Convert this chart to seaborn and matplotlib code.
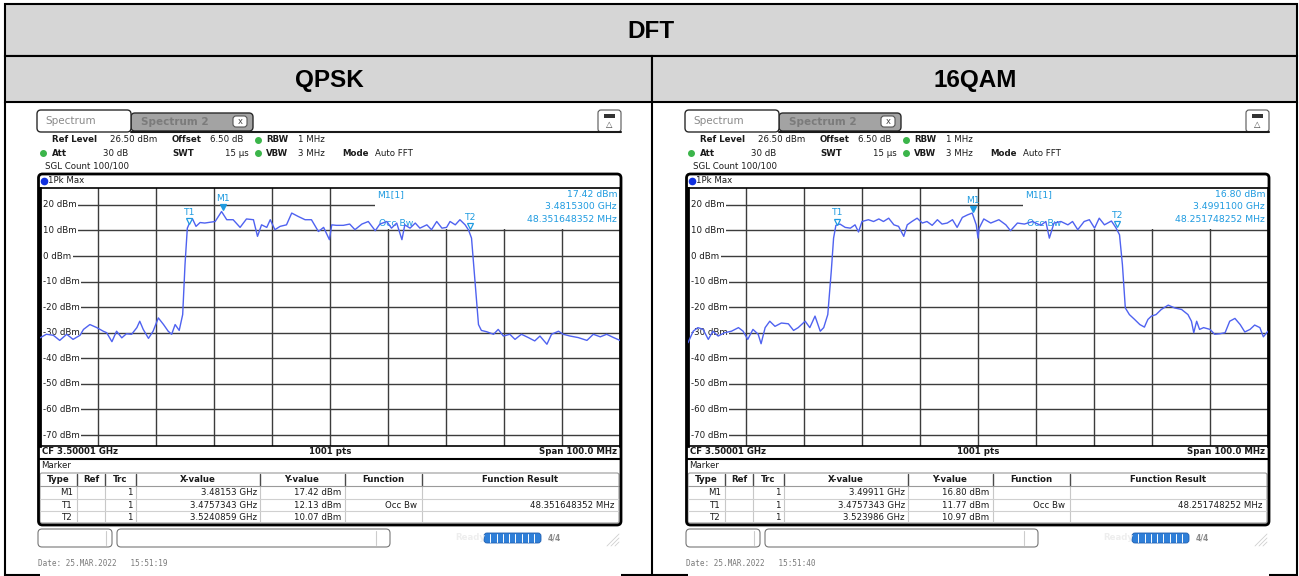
import matplotlib
matplotlib.use("Agg")
import matplotlib.pyplot as plt
import seaborn as sns
from matplotlib.patches import Rectangle, FancyBboxPatch

# ---- data ----
# frequency offset from CF (MHz) and level (dBm) of the "1Pk Max" trace
qpsk_freq = [-50.0, -48.9, -47.7, -46.6, -45.4, -44.3, -43.1, -42.5, -41.4, -40.2,
             -39.1, -38.5, -37.6, -36.8, -35.9, -35.1, -34.2, -33.3, -32.8, -32.2,
             -31.3, -30.5, -29.6, -28.7, -27.9, -27.3, -26.7, -26.0, -25.4, -25.0,
             -24.6, -24.1, -23.7, -23.1, -22.4, -21.6, -20.7, -19.8, -18.7, -17.8,
             -16.7, -15.5, -14.4, -13.2, -12.5, -11.8, -10.9, -10.3, -9.5, -8.6,
             -7.5, -6.6, -5.5, -4.3, -3.2, -2.0, -1.1, -0.1,
             0.3, 1.1, 2.3, 3.4, 4.3, 5.5, 6.6, 7.8, 8.6, 9.8,
             10.6, 11.5, 12.4, 12.9, 13.8, 14.7, 15.5, 16.7, 17.5, 18.4,
             19.3, 20.1, 20.7, 21.6, 22.4, 23.3, 23.9, 24.4, 25.0, 25.6,
             26.1, 27.0, 28.2, 29.0, 29.9, 31.0, 31.9, 33.0, 34.2, 35.3,
             36.2, 37.4, 38.2, 39.4, 40.2, 41.4, 42.8, 44.3, 45.4, 46.6,
             47.7, 48.9, 50.0]
qpsk_level = [-32.0, -30.6, -31.0, -33.0, -30.6, -32.6, -31.0, -28.7, -26.8, -28.0,
              -29.4, -30.0, -33.5, -29.4, -32.0, -30.4, -30.6, -28.0, -25.5, -28.7,
              -32.2, -29.4, -24.2, -26.8, -29.4, -30.6, -26.8, -29.1, -22.9, -3.4,
              10.9, 13.5, 14.5, 11.6, 13.1, 12.9, 13.2, 13.5, 17.4, 14.2,
              14.2, 11.2, 14.5, 14.2, 7.7, 12.2, 11.2, 14.2, 10.3, 11.6,
              12.2, 16.8, 15.5, 14.2, 14.2, 9.6, 11.2, 6.4,
              12.2, 12.0, 12.0, 12.5, 10.3, 12.5, 13.5, 9.9, 12.5, 13.5,
              10.9, 12.9, 6.4, 12.2, 10.9, 12.9, 10.9, 12.2, 10.3, 13.5,
              10.9, 11.2, 13.5, 12.2, 14.2, 12.2, 10.1, 7.0, -9.9, -26.8,
              -29.1, -29.6, -30.6, -28.7, -31.3, -30.6, -32.6, -30.6, -31.9, -33.2,
              -31.3, -34.5, -30.6, -29.4, -30.6, -31.3, -31.9, -33.0, -30.6, -31.6,
              -30.6, -31.9, -33.0]

qam_freq = [-50.0, -49.1, -48.3, -47.4, -46.5, -45.7, -44.8, -43.7, -42.5, -41.3,
            -40.5, -39.7, -38.8, -37.9, -37.4, -36.7, -35.9, -35.0, -33.9, -32.7,
            -31.8, -31.0, -29.8, -29.0, -28.1, -27.2, -26.6, -25.9, -25.3, -24.9,
            -24.5, -23.8, -22.9, -22.0, -21.2, -20.6, -20.0, -18.9, -18.0, -17.1,
            -16.3, -15.4, -14.5, -13.7, -12.8, -12.2, -11.4, -10.5, -9.6, -8.8,
            -7.9, -7.0, -6.2, -5.3, -4.4, -3.6, -2.7, -1.8, -1.0, -0.3, 0.0,
            0.2, 1.0, 2.2, 3.6, 4.8, 5.6, 6.8, 8.0, 9.4, 10.8,
            11.7, 12.3, 13.1, 14.3, 15.5, 16.3, 17.2, 18.3, 19.2, 20.1,
            20.9, 21.8, 23.0, 23.8, 24.4, 24.9, 25.4, 26.1, 27.0, 27.9,
            28.7, 29.3, 29.9, 30.7, 31.6, 32.8, 33.9, 35.1, 36.2, 36.8,
            37.2, 37.7, 38.2, 38.9, 40.0, 40.8, 41.7, 42.6, 43.4, 44.3,
            45.2, 46.0, 46.9, 47.7, 48.6, 49.2, 50.0]
qam_level = [-33.9, -29.4, -28.0, -28.7, -32.6, -29.4, -31.3, -30.0, -29.4, -28.0,
             -29.4, -32.6, -28.7, -30.6, -34.3, -28.0, -25.5, -27.5, -26.2, -26.5,
             -29.1, -28.0, -25.5, -28.0, -23.5, -29.4, -28.0, -22.9, -6.0, 7.0,
             12.0, 12.5, 11.2, 10.9, 12.2, 9.4, 13.5, 14.2, 13.5, 14.5,
             13.5, 14.8, 12.2, 11.6, 7.7, 12.2, 13.5, 14.8, 12.9, 13.5,
             12.0, 14.2, 12.5, 12.9, 14.2, 11.2, 15.1, 16.1, 16.8, 12.2, 7.0,
             10.9, 14.5, 12.9, 14.2, 12.2, 9.9, 12.9, 12.5, 13.5, 12.0,
             13.5, 7.0, 12.9, 13.5, 12.2, 13.5, 10.3, 13.5, 14.2, 10.9,
             14.8, 12.2, 13.7, 11.0, 8.3, -3.4, -20.3, -22.9, -24.8, -26.8,
             -27.8, -24.8, -23.5, -22.9, -20.9, -19.2, -20.3, -20.9, -22.9, -25.5,
             -30.0, -25.5, -28.7, -28.0, -28.7, -30.6, -30.4, -30.0, -25.5, -24.4,
             -26.8, -29.7, -28.7, -27.0, -28.0, -31.6, -29.4]

table_title = "DFT"
column_titles = ["QPSK", "16QAM"]
y_ticks = [20, 10, 0, -10, -20, -30, -40, -50, -60, -70]
center_ghz = 3.50001

marker_types = ["M1", "T1", "T2"]
qpsk_marker_x = ["3.48153 GHz", "3.4757343 GHz", "3.5240859 GHz"]
qpsk_marker_y = ["17.42 dBm", "12.13 dBm", "10.07 dBm"]
qam_marker_x = ["3.49911 GHz", "3.4757343 GHz", "3.523986 GHz"]
qam_marker_y = ["16.80 dBm", "11.77 dBm", "10.97 dBm"]
qpsk_occ_bw = "48.351648352 MHz"
qam_occ_bw = "48.251748252 MHz"
qpsk_m1_info = ["17.42 dBm", "3.4815300 GHz"]
qam_m1_info = ["16.80 dBm", "3.4991100 GHz"]
dates = ["Date: 25.MAR.2022   15:51:19", "Date: 25.MAR.2022   15:51:40"]

# ---- figure, one pixel-space axes for the table / screen furniture ----
W, H = 1299, 576
sns.set_style("white")
plt.rcParams["font.family"] = ["DejaVu Sans"]
fig = plt.figure(figsize=(W / 100, H / 100), dpi=100)
bg = fig.add_axes([0, 0, 1, 1])
bg.set_xlim(0, W)
bg.set_ylim(H, 0)
bg.axis("off")

SFS = 6.2
INFO = "#1f9be0"
TRACE = "#4f62f0"
GRID = "#3c3c3c"

# outer table
HEAD = "#d6d6d6"
bg.add_patch(Rectangle((5, 4), 1292, 52, fc=HEAD, ec="black", lw=1.5))
bg.add_patch(Rectangle((5, 56), 647, 46, fc=HEAD, ec="black", lw=1.5))
bg.add_patch(Rectangle((652, 56), 645, 46, fc=HEAD, ec="black", lw=1.5))
for xx in [5, 652, 1297]:
    bg.plot([xx, xx], [102, 576], color="black", lw=1.5, zorder=0.5)
bg.plot([5, 1297], [575, 575], color="black", lw=1.5, zorder=0.5)
title_kw = dict(ha="center", va="center", fontsize=17.5, fontweight="bold",
                family="Liberation Sans", color="black")
bg.text(651, 31, table_title, **title_kw)
bg.text(329, 80, column_titles[0], **title_kw)
bg.text(975, 80, column_titles[1], **title_kw)


def draw_screen(dx, freq, level, mx, my, occ, m1_info, date):
    def T(x, y, s, **kw):
        kw.setdefault("fontsize", SFS)
        kw.setdefault("va", "center")
        kw.setdefault("color", "#1a1a1a")
        bg.text(x + dx, y, s, **kw)

    def R(x0, y0, x1, y1, r=0.0, **kw):
        style = "round,pad=0,rounding_size=%g" % r if r > 0 else "square,pad=0"
        bg.add_patch(FancyBboxPatch((x0 + dx, y0), x1 - x0, y1 - y0, boxstyle=style, **kw))

    def L(xs, ys, **kw):
        bg.plot([x + dx for x in xs], ys, **kw)

    # white screenshot background hides part of the table's bottom line
    R(40, 104, 621, 576, fc="white", ec="none", zorder=0.8)

    # tabs
    R(131, 113, 253, 131, r=4, fc="#a3a3a3", ec="#2a2a2a", lw=1)
    T(141, 122, "Spectrum 2", fontsize=7.5, color="#7b7b7b", fontweight="bold")
    R(233, 116, 247, 127, r=3, fc="white", ec="#555555", lw=0.8)
    T(240, 121.5, "x", fontsize=6, ha="center", color="#444444")
    R(37, 110, 131, 132, r=4, fc="white", ec="#2a2a2a", lw=1)
    T(45, 121, "Spectrum", fontsize=7.5, color="#8a8a8a")
    L([131, 621], [131.5, 131.5], color="#1a1a1a", lw=1.5)
    R(598, 110, 621, 132, r=3, fc="white", ec="#555555", lw=0.8)
    R(604, 114, 615, 118, fc="#333333", ec="none")
    T(609.5, 125, "\u25b3", fontsize=6, ha="center", color="#444444")

    # settings lines
    green = "#3bb54a"
    T(52, 140, "Ref Level", fontweight="bold")
    T(110, 140, "26.50 dBm")
    T(172, 140, "Offset", fontweight="bold")
    T(210, 140, "6.50 dB")
    L([258], [140], marker="o", ms=4, color=green)
    T(266, 140, "RBW", fontweight="bold")
    T(298, 140, "1 MHz")
    L([43], [153], marker="o", ms=4, color=green)
    T(52, 153, "Att", fontweight="bold")
    T(128, 153, "30 dB", ha="right")
    T(172, 153, "SWT", fontweight="bold")
    T(249, 153, "15 \u00b5s", ha="right")
    L([258], [153], marker="o", ms=4, color=green)
    T(266, 153, "VBW", fontweight="bold")
    T(298, 153, "3 MHz")
    T(342, 153, "Mode", fontweight="bold")
    T(375, 153, "Auto FFT")
    T(45, 166, "SGL Count 100/100")

    # main screen frame
    R(38.5, 174, 621, 525, r=4, fc="none", ec="black", lw=2, zorder=5)
    L([44], [180.5], marker="o", ms=4.5, color="#1030e0")
    T(48, 180.5, "1Pk Max")
    L([39, 621], [459, 459], color="black", lw=1.5)
    T(42, 452, "CF 3.50001 GHz", fontweight="bold")
    T(330, 452, "1001 pts", fontweight="bold", ha="center")
    T(617, 452, "Span 100.0 MHz", fontweight="bold", ha="right")

    # marker table
    T(41, 466, "Marker")
    R(40, 473, 619, 523, r=2, fc="none", ec="#9a9a9a", lw=0.8)
    seps = [77, 105, 136, 260, 345, 422]
    for sx in seps:
        L([sx, sx], [474, 486], color="#4a4a4a", lw=1)
        L([sx, sx], [486, 523], color="#c8c8c8", lw=0.8)
    L([40, 619], [486, 486], color="#9a9a9a", lw=0.8)
    L([40, 619], [498.5, 498.5], color="#d0d0d0", lw=0.8)
    L([40, 619], [511, 511], color="#d0d0d0", lw=0.8)
    heads = [("Type", 58), ("Ref", 91), ("Trc", 120), ("X-value", 198),
             ("Y-value", 302), ("Function", 383), ("Function Result", 520)]
    for h, hx in heads:
        T(hx, 480, h, fontweight="bold", ha="center")
    rows_y = [492.5, 505, 517]
    for i in range(3):
        T(73, rows_y[i], marker_types[i], ha="right")
        T(133, rows_y[i], "1", ha="right")
        T(257, rows_y[i], mx[i], ha="right")
        T(341, rows_y[i], my[i], ha="right")
    T(417, rows_y[1], "Occ Bw", ha="right")
    T(614, rows_y[1], occ, ha="right")

    # status bar
    R(38, 529, 112, 547, r=4, fc="white", ec="#777777", lw=0.8)
    L([106, 106], [531, 545], color="#cccccc", lw=0.8)
    R(117, 529, 390, 547, r=4, fc="white", ec="#777777", lw=0.8)
    L([376, 376], [531, 545], color="#cccccc", lw=0.8)
    T(470, 538, "Ready", fontweight="bold", color="#eeeeee", ha="center")
    R(484, 533, 541, 543, r=3, fc="#2f7fd8", ec="#1f5fb0", lw=0.6)
    for k in range(1, 9):
        L([484 + k * 6.3, 484 + k * 6.3], [534, 542], color="white", lw=0.7)
    T(548, 538, "4/4", fontweight="bold", color="#8a8a8a", fontsize=5.5)
    for k in range(4):
        L([607 + k * 4, 619], [546, 534 + k * 4], color="#cfcfcf", lw=0.6)

    T(38, 564, date, fontsize=5.5, color="#7a7a7a", family="DejaVu Sans Mono")

    # trace diagram, placed in pixels
    x0, x1, ytop, ybot = 40 + dx, 620 + dx, 187.5, 446
    ax = fig.add_axes([x0 / W, (H - ybot) / H, (x1 - x0) / W, (ybot - ytop) / H])
    ax.set_xlim(-50, 50)
    ax.set_ylim(-74.3, 26.8)
    ax.set_xticks(range(-40, 41, 10))
    ax.set_yticks(y_ticks)
    ax.tick_params(length=0, labelbottom=False, labelleft=False)
    ax.grid(True, color=GRID, lw=1)
    ax.set_axisbelow(True)
    for side in ["left", "right"]:
        ax.spines[side].set_linewidth(2)
        ax.spines[side].set_color("black")
    for side in ["top", "bottom"]:
        ax.spines[side].set_linewidth(1.2)
        ax.spines[side].set_color("black")

    # marker info block hides the grid in the upper right
    ax.add_patch(Rectangle((7.8, 10.7), 42.2, 17, fc="white", ec="none", zorder=1))
    for t in y_ticks:
        ax.text(-49.5, t, "%d dBm" % t, fontsize=SFS, va="center", ha="left", color="#1a1a1a",
                zorder=2, bbox=dict(fc="white", ec="none", pad=1.2))

    sns.lineplot(x=freq, y=level, ax=ax, color=TRACE, lw=1, estimator=None, zorder=3)

    # markers
    for i, name in enumerate(marker_types):
        f = float(mx[i].split()[0]) * 1000 - center_ghz * 1000
        lv = float(my[i].split()[0])
        face = INFO if name == "M1" else "white"
        ax.plot([f], [lv + 1.6], marker="v", ms=4.5, color=INFO, mfc=face, mew=0.9, zorder=4)
        ax.text(f, lv + 3.3, name, fontsize=SFS + 0.5, color=INFO, ha="center", va="bottom", zorder=4)

    ax.text(8.2, 23.9, "M1[1]", fontsize=SFS + 0.5, color=INFO, va="center", zorder=4)
    ax.text(49.5, 23.9, m1_info[0], fontsize=SFS + 0.5, color=INFO, va="center", ha="right", zorder=4)
    ax.text(49.5, 19.2, m1_info[1], fontsize=SFS + 0.5, color=INFO, va="center", ha="right", zorder=4)
    ax.text(49.5, 14.1, occ, fontsize=SFS + 0.5, color=INFO, va="center", ha="right", zorder=4)
    ax.text(8.4, 12.6, "Occ Bw", fontsize=SFS + 0.5, color=INFO, va="center", zorder=2)
    return ax


draw_screen(0, qpsk_freq, qpsk_level, qpsk_marker_x, qpsk_marker_y, qpsk_occ_bw, qpsk_m1_info, dates[0])
draw_screen(648, qam_freq, qam_level, qam_marker_x, qam_marker_y, qam_occ_bw, qam_m1_info, dates[1])

fig.savefig("out.png", dpi=100)
